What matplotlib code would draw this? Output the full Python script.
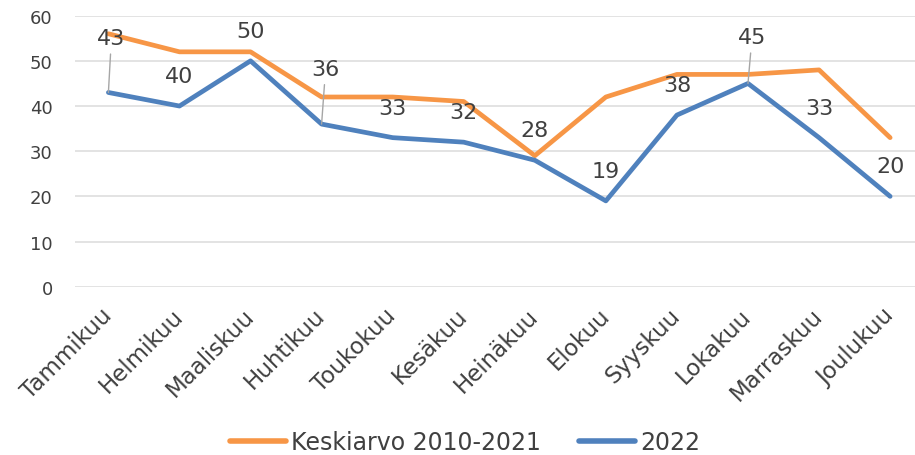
import matplotlib
matplotlib.use("Agg")
import matplotlib.pyplot as plt

months = ["Tammikuu", "Helmikuu", "Maaliskuu", "Huhtikuu", "Toukokuu", "Kesäkuu",
          "Heinäkuu", "Elokuu", "Syyskuu", "Lokakuu", "Marraskuu", "Joulukuu"]
avg_2010_2021 = [56, 52, 52, 42, 42, 41, 29, 42, 47, 47, 48, 33]
y2022 = [43, 40, 50, 36, 33, 32, 28, 19, 38, 45, 33, 20]
y_ticks = [0, 10, 20, 30, 40, 50, 60]

ORANGE = "#F79646"
BLUE = "#4F81BD"
TXT = "#404040"

plt.rcParams["font.family"] = ["DejaVu Sans"]

fig = plt.figure(figsize=(9.15, 4.56), dpi=100)
ax = fig.add_axes([75 / 915, 1 - 287.7 / 456, 1 - 75 / 915, (287.7 - 16.7) / 456])

x = list(range(len(months)))
ax.plot(x, avg_2010_2021, color=ORANGE, lw=3.4, solid_joinstyle="round",
        solid_capstyle="round", label="Keskiarvo 2010-2021", zorder=3)
ax.plot(x, y2022, color=BLUE, lw=3.4, solid_joinstyle="round",
        solid_capstyle="round", label="2022", zorder=4)

ax.set_ylim(0, 60)
ax.set_xlim(-0.47, 11.35)
ax.set_yticks(y_ticks)
ax.yaxis.grid(True, color="#E0E0E0", lw=1.3)
ax.set_axisbelow(True)
for s in ax.spines.values():
    s.set_visible(False)
ax.tick_params(axis="y", length=0, pad=16, labelsize=13, labelcolor=TXT)
ax.tick_params(axis="x", length=0, pad=18, labelsize=16.5, labelcolor=TXT)
ax.set_xticks(x)
ax.set_xticklabels(months, rotation=45, ha="right", va="center", rotation_mode="anchor")

# data labels for 2022
leader = {0: (3, 54), 3: (4, 55), 9: (4, 46)}
for i, v in enumerate(y2022):
    if i in leader:
        dx, dy = leader[i]
        ax.annotate(str(v), xy=(i, v), xytext=(dx, dy), textcoords="offset pixels",
                    ha="center", va="center", fontsize=16, color=TXT, zorder=6,
                    arrowprops=dict(arrowstyle="-", color="#A6A6A6", lw=1.0,
                                    shrinkA=2, shrinkB=0))
    else:
        ax.annotate(str(v), xy=(i, v), xytext=(0, 30), textcoords="offset pixels",
                    ha="center", va="center", fontsize=16, color=TXT, zorder=6)

leg = fig.legend(loc="center", bbox_to_anchor=(465 / 915, 1 - 443 / 456), ncol=2,
                 frameon=False, fontsize=17, handlelength=2.4, handletextpad=0.2,
                 columnspacing=1.6, labelcolor=TXT)
for h in leg.get_lines():
    h.set_linewidth(4)

fig.savefig("out.png", dpi=100, facecolor="white")
